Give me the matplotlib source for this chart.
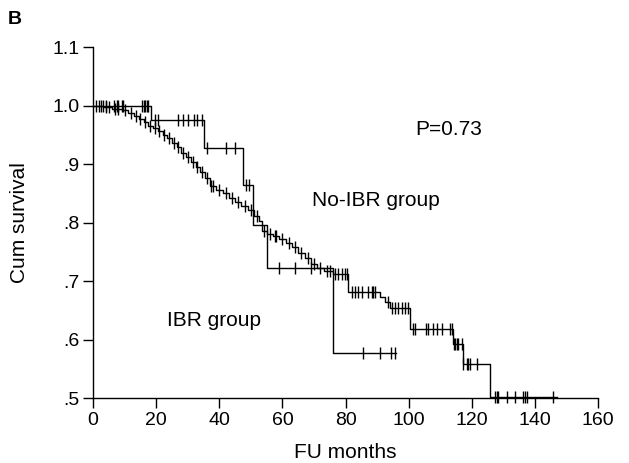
import numpy as np
import matplotlib
matplotlib.use("Agg")
import matplotlib.pyplot as plt

plt.rcParams['font.family'] = ['Liberation Sans', 'DejaVu Sans']

# IBR group: step (drop) times and survival levels
ibr_times = [0, 18.5, 35, 47.5, 50.5, 55, 76, 96]
ibr_surv = [1.0, 0.976, 0.927, 0.864, 0.796, 0.722, 0.577, 0.577]
ibr_censor = [2, 3, 4, 6.5, 7.5, 8, 9, 9.5, 15.5, 16, 16.5, 17, 17.5,
              19.5, 20.5, 27, 28.5, 30, 32, 33, 34.5, 36, 42, 45,
              48.5, 49.5, 59, 64, 69, 85.5, 91, 94.5, 95.5]

# No-IBR group
noibr_times = [0, 3, 6, 9, 11, 13, 14.5, 16, 17.5, 19, 20.5, 22, 23.5, 25,
               26.5, 28, 29.5, 31, 32.5, 34, 35.5, 37, 39, 41, 43, 45, 47,
               49, 51, 52.5, 53.5, 55, 57, 59, 61, 63, 65, 67, 69, 71, 73,
               76, 80.8, 90.9, 92.5, 94, 100.4, 113.9, 117.1, 125.8, 147]
noibr_surv = [1.0, 0.998, 0.995, 0.992, 0.987, 0.983, 0.978, 0.972, 0.966,
              0.962, 0.957, 0.950, 0.944, 0.937, 0.929, 0.920, 0.912, 0.904,
              0.896, 0.887, 0.877, 0.862, 0.856, 0.850, 0.843, 0.836, 0.829,
              0.822, 0.812, 0.803, 0.786, 0.781, 0.777, 0.772, 0.765, 0.758,
              0.749, 0.740, 0.730, 0.722, 0.718, 0.712, 0.682, 0.673, 0.665,
              0.654, 0.618, 0.593, 0.558, 0.502, 0.502]
noibr_censor = [1, 2.5, 4, 5, 7, 8, 10, 12, 13.5, 15, 16.5, 18, 19.5, 21,
                22.5, 24, 25.5, 27, 28.5, 30, 31.5, 33, 34.5, 36, 37.5, 38,
                40, 42, 44, 46, 48, 50, 52, 54, 56, 57.5, 58, 60, 62, 64,
                66, 68, 70, 72, 74, 75, 76.7, 77.6, 78.9, 79.8, 80.5,
                82, 83, 84, 85.2, 87.1, 88.4, 88.7, 89.4,
                93.5, 94.7, 95.7, 96.6, 97.9, 98.9, 99.8,
                101.4, 102, 105.5, 106.1, 107.7, 109, 110.6, 113.1, 113.7,
                114.2, 114.7, 115.3, 115.7, 116.9,
                117.3, 118.5, 118.8, 119.5, 121.7,
                127.4, 128, 128.3, 131.2, 133.7, 136.2, 136.9, 137.5, 145.8]

xticks = [0, 20, 40, 60, 80, 100, 120, 140, 160]
yticks = [0.5, 0.6, 0.7, 0.8, 0.9, 1.0, 1.1]
ytick_labels = ['.5', '.6', '.7', '.8', '.9', '1.0', '1.1']


def level_at(times, surv, t):
    idx = np.searchsorted(np.asarray(times), t, side='right') - 1
    return np.asarray(surv)[np.clip(idx, 0, len(surv) - 1)]


fig = plt.figure(figsize=(6.29, 4.63), dpi=100)
ax = fig.add_axes([0.148, 0.140, 0.803, 0.758])

for times, surv, cens in [(ibr_times, ibr_surv, ibr_censor),
                          (noibr_times, noibr_surv, noibr_censor)]:
    ax.plot(times, surv, drawstyle='steps-post', color='black', lw=1.0,
            clip_on=False)
    ax.plot(cens, level_at(times, surv, np.asarray(cens)), ls='none',
            marker='|', ms=9, mew=1.0, color='black', clip_on=False)

ax.set_xlim(0, 160)
ax.set_ylim(0.5, 1.1)
ax.set_xticks(xticks)
ax.set_yticks(yticks)
ax.set_yticklabels(ytick_labels)
ax.spines['top'].set_visible(False)
ax.spines['right'].set_visible(False)
for s in ['left', 'bottom']:
    ax.spines[s].set_linewidth(1.0)
ax.tick_params(direction='out', length=7, width=1.0, labelsize=14,
               colors='black', pad=3)
ax.set_xlabel('FU months', fontsize=15)
ax.set_ylabel('Cum survival', fontsize=15)
ax.xaxis.set_label_coords(0.5, -0.127)
ax.yaxis.set_label_coords(-0.127, 0.5)

ax.text(102, 0.96, 'P=0.73', fontsize=15, va='center', ha='left')
ax.text(69.5, 0.838, 'No-IBR group', fontsize=15, va='center', ha='left')
ax.text(23.5, 0.633, 'IBR group', fontsize=15, va='center', ha='left')
fig.text(0.013, 0.957, 'B', fontsize=14, fontweight='bold', va='center')

fig.savefig('out.png', dpi=100)
